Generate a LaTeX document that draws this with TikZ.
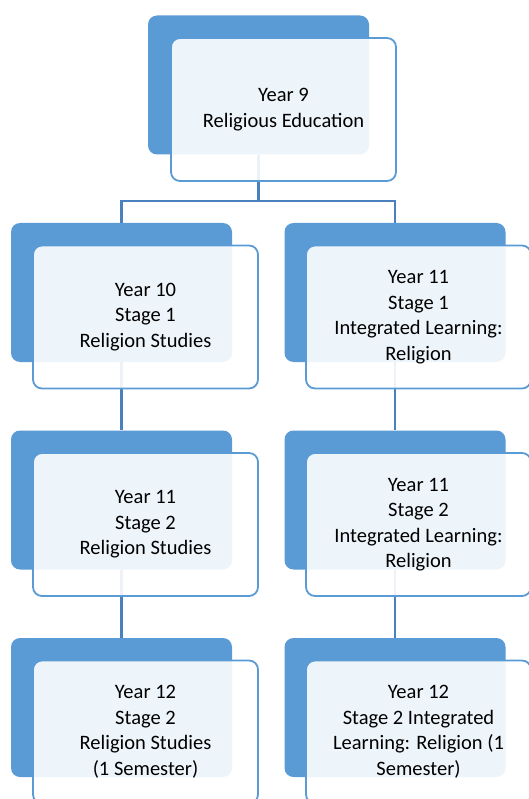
\documentclass[tikz,border=0pt]{standalone}
\usepackage{fontspec}
\setmainfont{Carlito}
\usepackage{tikz}
\definecolor{smartblue}{HTML}{5B9BD5}
\definecolor{linkblue}{HTML}{4A80BD}

\begin{document}
\begin{tikzpicture}[x=1pt, y=-1pt,
  back/.style={fill=smartblue, rounded corners=9pt, minimum width=221pt, minimum height=139pt, inner sep=0pt},
  front/.style={draw=smartblue, line width=1.8pt, fill=white, fill opacity=0.9, text opacity=1, rounded corners=9pt, minimum width=225pt, minimum height=143pt, inner sep=0pt, align=center, font=\fontsize{20.5}{25.5}\selectfont},
  link/.style={draw=linkblue, line width=2.2pt}]

  \useasboundingbox (0,0) rectangle (529,799);

  % ========== Back plates ==========
  \node[back] (y9b)  at (258.5,85) {};
  \node[back] (y10b) at (121.5,292.5) {};
  \node[back] (y11ib) at (395,292.5) {};
  \node[back] (y11b) at (121.5,500) {};
  \node[back] (y11jb) at (395,500) {};
  \node[back] (y12b) at (121.5,707.5) {};
  \node[back] (y12ib) at (395,707.5) {};

  % ========== Connectors ==========
  \coordinate (split) at (258.5,201);
  \draw[link] (y9b.south) -- (split);
  \draw[link] (split) -| (y10b.north);
  \draw[link] (split) -| (y11ib.north);
  \draw[link] (y10b.south) -- (y11b.north);
  \draw[link] (y11b.south) -- (y12b.north);
  \draw[link] (y11ib.south) -- (y11jb.north);
  \draw[link] (y11jb.south) -- (y12ib.north);

  % ========== Front boxes ==========
  \node[front] (y9)  at (283.5,109.5) {Year 9\\Religious Education};
  % left column: Religion Studies
  \node[front] (y10) at (145.5,317) {Year 10\\Stage 1\\Religion Studies};
  \node[front] (y11) at (145.5,524.5) {Year 11\\Stage 2\\Religion Studies};
  \node[front] (y12) at (145.5,732) {Year 12\\Stage 2\\Religion Studies\\(1 Semester)};
  % right column: Integrated Learning
  \node[front] (y11i) at (418.5,317) {Year 11\\Stage 1\\Integrated Learning:\\Religion};
  \node[front] (y11j) at (418.5,524.5) {Year 11\\Stage 2\\Integrated Learning:\\Religion};
  \node[front] (y12i) at (418.5,732) {Year 12\\Stage 2 Integrated\\Learning: Religion (1\\Semester)};

\end{tikzpicture}
\end{document}
